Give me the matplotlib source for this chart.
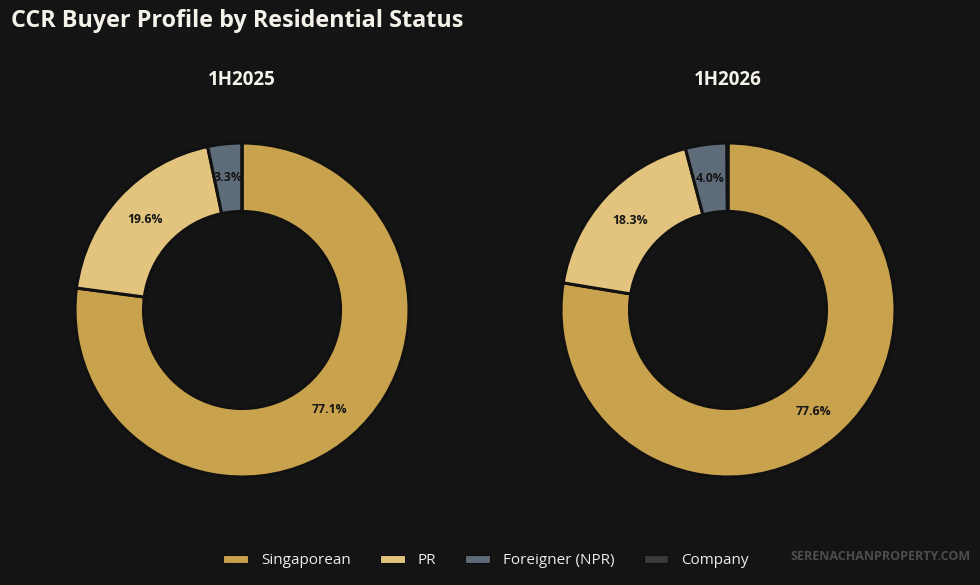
import matplotlib
matplotlib.use("Agg")
import matplotlib.pyplot as plt
from matplotlib.patches import Patch

plt.rcParams['font.family'] = ['Open Sans', 'DejaVu Sans']

categories = ["Singaporean", "PR", "Foreigner (NPR)", "Company"]
periods = ["1H2025", "1H2026"]
values_2025 = [77.1, 19.6, 3.3, 0.0]
values_2026 = [77.6, 18.3, 4.0, 0.1]
series = [values_2025, values_2026]

colors = ["#C9A24D", "#E3C47F", "#5E6B78", "#3A3A3A"]
bg = "#141414"

fig = plt.figure(figsize=(9.8, 5.85), dpi=100, facecolor=bg)

centers_x = [242, 728]
cy = 310
rad_px = 167
for cx, vals, per in zip(centers_x, series, periods):
    w = 2 * rad_px
    ax = fig.add_axes([(cx - rad_px) / 980, 1 - (cy + rad_px) / 585, w / 980, w / 585])
    ax.set_facecolor(bg)

    def fmt(p):
        return f"{p:.1f}%" if p >= 1 else ""

    ax.pie(
        vals, colors=colors, startangle=90, counterclock=False,
        radius=1.0, autopct=fmt, pctdistance=0.795,
        wedgeprops=dict(width=0.41, edgecolor="#111111", linewidth=2.2),
        textprops=dict(color="#141414", fontsize=8.8, fontweight="bold"),
    )
    ax.set_xlim(-1, 1)
    ax.set_ylim(-1, 1)
    ax.set_aspect("equal")
    ax.axis("off")
    fig.text(cx / 980, 1 - 80 / 585, per, ha="center", va="center",
             color="#F5F2EA", fontsize=13.5, fontweight="bold")

fig.text(11 / 980, 1 - 21 / 585, "CCR Buyer Profile by Residential Status",
         ha="left", va="center", color="#F5F2EA", fontsize=16.8, fontweight="bold")

handles = [Patch(facecolor=c, edgecolor="#0E0E0E", linewidth=0.8, label=l)
           for c, l in zip(colors, categories)]
fig.legend(handles=handles, loc="center", bbox_to_anchor=(486 / 980, 1 - 561 / 585),
           ncol=4, frameon=False, fontsize=11, labelcolor="#EDEDED",
           handlelength=1.63, handleheight=0.4, columnspacing=1.9, handletextpad=0.85)

fig.text(970 / 980, 1 - 557 / 585, "SERENACHANPROPERTY.COM", ha="right", va="center",
         color="#4D4D4D", fontsize=9, fontweight="bold")

fig.savefig("out.png", dpi=100, facecolor=bg)
